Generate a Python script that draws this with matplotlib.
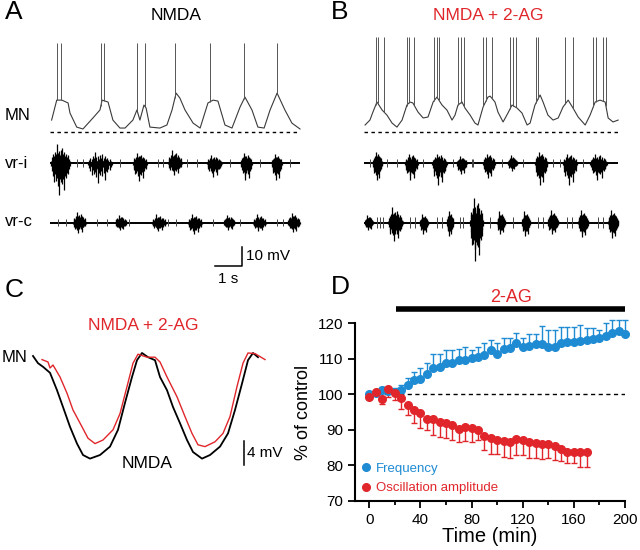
import numpy as np
import matplotlib
matplotlib.use('Agg')
import matplotlib.pyplot as plt
from matplotlib.lines import Line2D

plt.rcParams['font.family'] = ['Liberation Sans', 'DejaVu Sans']

RED = '#e0262b'
BLUE = '#1f8bd3'
TRACE = '#3a3a3a'

# ---------------- panel A : NMDA ----------------
# MN membrane potential, vertices of the slow oscillation (s, mV above dotted line)
mn_a_t = [0.06, 0.25, 0.44, 0.67, 0.74, 0.99, 1.22, 1.59, 1.85, 1.93, 2.15, 2.33, 2.59, 2.78,
          3.07, 3.22, 3.33, 3.48, 3.56, 3.70, 4.07, 4.33, 4.52, 4.67, 4.81, 5.00, 5.30, 5.56,
          5.85, 6.04, 6.22, 6.48, 6.74, 7.04, 7.22, 7.48, 7.70, 7.93, 8.15, 8.41, 8.70, 8.96, 9.26]
mn_a_v = [6.3, 16.8, 16.8, 15.3, 10.0, 2.6, 1.6, 7.4, 11.6, 16.8, 15.8, 6.3, 2.1, 2.1,
          6.3, 11.6, 6.3, 14.2, 12.6, 2.6, 2.1, 3.7, 11.6, 20.5, 17.9, 11.6, 4.7, 2.1,
          15.3, 16.8, 16.3, 3.7, 2.1, 13.2, 18.4, 11.6, 2.6, 2.1, 11.6, 20.5, 11.6, 4.7, 1.6]
spikes_a = [0.27, 0.40, 1.88, 2.00, 3.23, 3.53, 4.63, 5.94, 7.19, 8.41]
spike_top_a = 46.8
# ventral root bursts: (start s, end s, max up mV, max down mV)
vri_a_bursts = [(0.04, 0.74, 10.0, 17.0), (1.41, 2.30, 5.8, 10.5), (3.07, 3.59, 5.3, 9.5),
                (4.37, 4.89, 6.8, 6.3), (5.81, 6.37, 4.2, 7.4), (7.07, 7.48, 5.3, 9.0),
                (8.22, 8.59, 4.7, 9.0)]
vri_a_units = [0.99, 1.23, 2.59, 4.00, 4.19, 5.07, 5.43, 6.67, 7.78, 8.89]
vrc_a_bursts = [(0.85, 1.33, 5.8, 5.5), (2.41, 2.85, 4.0, 4.0), (3.78, 4.30, 4.5, 4.5),
                (5.11, 5.63, 4.5, 6.0), (6.44, 6.85, 4.0, 4.0), (7.52, 8.00, 4.5, 4.5),
                (8.81, 9.26, 5.0, 5.0)]
vrc_a_units = [0.30, 0.60, 1.73, 2.10, 2.93, 4.37, 4.67, 6.05, 7.04, 8.40, 8.64]
end_a = 9.26

# ---------------- panel B : NMDA + 2-AG ----------------
mn_b_t = [0.04, 0.22, 0.33, 0.48, 0.67, 0.85, 1.04, 1.22, 1.41, 1.59, 1.70, 1.81, 2.00, 2.19,
          2.37, 2.56, 2.70, 2.89, 3.07, 3.26, 3.37, 3.48, 3.63, 3.74, 3.93, 4.11, 4.22, 4.41,
          4.59, 4.67, 4.85, 4.96, 5.15, 5.33, 5.48, 5.67, 5.85, 6.04, 6.15, 6.33, 6.52, 6.63,
          6.81, 7.00, 7.19, 7.37, 7.56, 7.74, 7.93, 8.19, 8.37, 8.56, 8.74, 8.93, 9.04, 9.22, 9.41]
mn_b_v = [3.7, 6.3, 10.5, 15.8, 11.6, 8.9, 4.7, 2.6, 6.3, 14.2, 15.8, 15.3, 10.5, 7.4,
          7.9, 15.8, 18.4, 14.2, 11.6, 6.3, 8.9, 14.2, 15.8, 12.6, 8.9, 4.7, 3.7, 13.2,
          18.4, 18.9, 15.8, 10.5, 5.3, 10.0, 14.2, 12.6, 10.0, 3.7, 4.7, 14.2, 19.5, 15.8,
          8.9, 6.3, 7.4, 13.2, 16.8, 12.6, 7.9, 3.7, 8.9, 15.8, 16.8, 15.8, 7.4, 5.3, 6.3]
spikes_b = [0.44, 0.51, 0.75, 1.58, 1.68, 1.86, 2.60, 2.69, 2.78, 3.49, 3.60, 3.70,
            4.42, 4.51, 4.73, 5.41, 5.51, 5.62, 6.37, 6.44, 7.44, 7.74, 8.49, 8.59, 8.85, 8.96]
spike_top_b = 50.0
vri_b_bursts = [(0.33, 0.67, 6.0, 9.0), (1.52, 2.00, 5.0, 9.0), (2.52, 3.07, 5.0, 11.5),
                (3.44, 3.81, 3.5, 6.0), (4.41, 4.85, 5.0, 8.0), (5.33, 5.67, 4.0, 4.0),
                (6.33, 6.78, 6.0, 11.5), (7.37, 7.89, 5.0, 11.5), (8.37, 9.00, 5.0, 9.0)]
vri_b_units = [0.22, 0.84, 1.21, 2.19, 3.30, 3.99, 4.05, 5.10, 5.90, 7.00, 7.26, 8.11]
vrc_b_bursts = [(0.04, 0.33, 4.0, 4.0), (0.89, 1.44, 8.0, 9.5), (2.07, 2.37, 4.5, 6.0),
                (3.07, 3.30, 6.0, 7.0), (3.93, 4.41, 13.0, 20.0), (4.93, 5.22, 6.0, 6.0),
                (5.85, 6.15, 6.0, 7.0), (6.81, 7.19, 6.5, 6.0), (7.93, 8.30, 6.5, 7.5),
                (9.04, 9.41, 6.5, 8.0)]
vrc_b_units = [0.47, 0.59, 0.72, 1.70, 1.89, 2.69, 2.87, 3.56, 3.68, 4.67, 5.53, 6.44,
               6.62, 7.51, 7.70, 8.67, 8.85]
end_b = 9.41

# vertical offsets of the three rows (mV)
ROW_MN, ROW_VRI, ROW_VRC = 0.0, -16.3, -47.7

# ---------------- panel C : superimposed MN cycles ----------------
c_nmda_t = [0.00, 0.05, 0.10, 0.17, 0.24, 0.30, 0.37, 0.44, 0.50, 0.57, 0.67, 0.77, 0.85, 0.92,
            0.99, 1.04, 1.09, 1.15, 1.22, 1.27, 1.34, 1.40, 1.47, 1.54, 1.60, 1.69, 1.77, 1.87,
            1.95, 2.02, 2.09, 2.15, 2.20, 2.25]
c_nmda_v = [-0.5, -1.7, -2.3, -3.3, -6.2, -9.0, -12.3, -15.1, -17.0, -17.6, -17.0, -15.6, -12.8, -8.3,
            -4.0, -1.2, 0.0, -0.7, -1.2, -4.0, -6.2, -9.0, -11.7, -14.5, -16.5, -17.6, -17.0, -15.6,
            -13.4, -9.5, -5.1, -1.2, 0.0, -0.7]
c_2ag_t = [0.09, 0.15, 0.17, 0.20, 0.27, 0.34, 0.40, 0.49, 0.55, 0.62, 0.70, 0.80, 0.87, 0.94,
           1.00, 1.05, 1.14, 1.22, 1.27, 1.34, 1.44, 1.52, 1.59, 1.65, 1.72, 1.82, 1.90, 1.97,
           2.04, 2.10, 2.15, 2.22, 2.27, 2.32]
c_2ag_v = [-1.1, -1.5, -2.5, -2.0, -4.0, -6.7, -9.5, -12.3, -14.2, -15.1, -14.5, -12.8, -10.1, -5.6,
           -1.7, -0.2, -0.7, -0.7, -1.5, -4.0, -7.3, -10.6, -13.4, -15.3, -15.6, -14.8, -13.4, -10.6,
           -5.6, -1.7, 0.0, -0.1, -0.6, -1.1]

# ---------------- panel D : time course ----------------
time_freq = np.arange(0, 201, 5)
freq_mean = [100.0, 100.3, 101.2, 101.0, 100.8, 101.3, 102.7, 104.1, 104.3, 105.8, 107.5,
             107.6, 108.9, 108.9, 109.7, 109.7, 110.2, 110.6, 111.0, 112.4, 111.3, 112.8,
             113.0, 114.4, 113.2, 113.6, 114.1, 114.2, 113.4, 113.2, 114.4, 114.8, 114.6,
             115.0, 115.3, 115.5, 115.8, 116.3, 117.4, 117.7, 117.0]
freq_sem = [0.5, 0.5, 0.8, 1.0, 1.0, 1.2, 1.8, 2.3, 3.0, 2.9, 3.9, 3.8, 3.6, 3.6, 3.0, 3.7,
            2.3, 2.8, 3.4, 2.8, 3.1, 3.0, 2.8, 2.8, 2.8, 3.4, 2.9, 5.1, 4.7, 4.8, 4.6, 4.2,
            4.4, 4.5, 3.3, 3.1, 2.3, 3.7, 3.6, 3.3, 4.0]
time_amp = np.arange(0, 171, 5)
amp_mean = [99.2, 100.8, 98.7, 101.5, 100.3, 99.1, 97.1, 95.5, 94.7, 93.0, 93.0, 92.1, 91.9,
            91.4, 90.3, 90.8, 90.5, 90.0, 88.4, 87.7, 87.1, 87.0, 86.5, 87.5, 87.2, 86.7,
            86.3, 86.0, 86.0, 85.6, 84.6, 83.9, 83.9, 83.8, 83.8]
amp_sem = [0.5, 0.5, 1.4, 2.3, 1.8, 3.3, 2.9, 3.6, 4.2, 3.0, 4.5, 4.1, 4.3, 4.3, 3.6, 3.8,
           3.8, 2.7, 4.1, 4.5, 4.0, 4.5, 4.3, 4.5, 4.3, 4.5, 4.3, 4.2, 4.0, 4.0, 3.4, 3.2,
           3.2, 4.3, 4.3]
drug_on, drug_off = 21, 200

# shape template used to draw each extracellular burst as a bundle of unit spikes
UP_REL = [0.1, 0.3, 0.45, 0.35, 0.6, 0.5, 1.0, 0.55, 0.65, 0.4, 0.7, 0.5, 0.8, 0.45, 0.6,
          0.35, 0.5, 0.3, 0.4, 0.2, 0.1]
DOWN_REL = [0.1, 0.25, 0.4, 0.6, 0.35, 0.55, 0.45, 0.7, 1.0, 0.5, 0.6, 0.4, 0.65, 0.5, 0.85,
            0.4, 0.45, 0.3, 0.35, 0.2, 0.1]


def draw_vr(ax, base, end, bursts, units, unit_h):
    ax.plot([0, end], [base, base], color='k', lw=1.4, solid_capstyle='butt')
    for t0, t1, up, down in bursts:
        xs = np.linspace(t0, t1, len(UP_REL))
        ax.vlines(xs, base - down * np.array(DOWN_REL), base + up * np.array(UP_REL),
                  color='k', lw=0.9)
        ax.fill_between(xs, base - 0.35 * down * np.array(DOWN_REL),
                        base + 0.35 * up * np.array(UP_REL), color='k', lw=0)
    ax.vlines(units, base - unit_h, base + unit_h, color='#444444', lw=0.7)


def draw_mn(ax, t, v, spikes, top, end):
    ax.plot(t, v, color=TRACE, lw=0.8)
    ax.vlines(spikes, np.interp(spikes, t, v), top, color='#555555', lw=0.7)
    ax.plot([0, end], [0, 0], color='k', lw=1.0, ls=(0, (2.5, 2.5)))


fig = plt.figure(figsize=(6.4, 5.5), dpi=100)
W, H = 640.0, 550.0


def px_axes(x0, y0, x1, y1):
    a = fig.add_axes([x0 / W, 1 - y1 / H, (x1 - x0) / W, (y1 - y0) / H])
    a.axis('off')
    return a


# ---- A ----
ax_a = px_axes(45, 30, 305, 285)
ax_a.set_xlim(-0.185, 9.444)
ax_a.set_ylim(-80.5, 53.7)
draw_mn(ax_a, mn_a_t, mn_a_v, spikes_a, spike_top_a, end_a)
draw_vr(ax_a, ROW_VRI, end_a, vri_a_bursts, vri_a_units, 2.0)
draw_vr(ax_a, ROW_VRC, end_a, vrc_a_bursts, vrc_a_units, 2.0)
# scale bar 1 s / 10 mV
ax_a.plot([6.11, 7.11, 7.11], [-70.5, -70.5, -60.5], color='k', lw=1.1)
ax_a.text(7.25, -65.5, '10 mV', fontsize=11, va='center', ha='left')
ax_a.text(6.61, -77.5, '1 s', fontsize=11, va='center', ha='center')

# ---- B ----
ax_b = px_axes(359, 30, 623, 285)
ax_b.set_xlim(-0.185, 9.59)
ax_b.set_ylim(-80.5, 53.7)
draw_mn(ax_b, mn_b_t, mn_b_v, spikes_b, spike_top_b, end_b)
draw_vr(ax_b, ROW_VRI, end_b, vri_b_bursts, vri_b_units, 2.0)
draw_vr(ax_b, ROW_VRC, end_b, vrc_b_bursts, vrc_b_units, 3.0)

# ---- C ----
ax_c = px_axes(30, 330, 300, 475)
ax_c.set_xlim(-0.03, 2.67)
ax_c.set_ylim(-20.33, 3.83)
ax_c.plot(c_nmda_t, c_nmda_v, color='k', lw=1.3)
ax_c.plot(c_2ag_t, c_2ag_v, color=RED, lw=1.0)
ax_c.plot([2.11, 2.11], [-14.7, -18.7], color='k', lw=1.1)
ax_c.text(2.14, -16.7, '4 mV', fontsize=11, va='center', ha='left')

# ---- D ----
ax_d = fig.add_axes([355 / W, 1 - 501 / H, 270 / W, (501 - 323.3) / H])
ax_d.axhline(100, xmin=11.2 / 211.2, xmax=1, color='k', lw=1.0, ls=(0, (3, 2.5)))
ax_d.errorbar(time_freq, freq_mean, yerr=[np.zeros(len(freq_sem)), freq_sem], fmt='o',
              color=BLUE, ms=5.5, elinewidth=1.0, capsize=2.5, capthick=1.0, clip_on=False)
ax_d.errorbar(time_amp, amp_mean, yerr=[amp_sem, np.zeros(len(amp_sem))], fmt='o',
              color=RED, ms=5.5, elinewidth=1.0, capsize=2.5, capthick=1.0, clip_on=False)
ax_d.set_xlim(-11.2, 200)
ax_d.set_ylim(70, 120)
ax_d.set_xticks([0, 40, 80, 120, 160, 200])
ax_d.set_xticks([20, 60, 100, 140, 180], minor=True)
ax_d.set_yticks([70, 80, 90, 100, 110, 120])
ax_d.tick_params(axis='both', which='major', labelsize=11, length=5, width=1.3, direction='out')
ax_d.tick_params(axis='x', which='minor', length=3, width=1.3)
for s in ['top', 'right']:
    ax_d.spines[s].set_visible(False)
for s in ['left', 'bottom']:
    ax_d.spines[s].set_linewidth(1.5)
ax_d.set_xlabel('Time (min)', fontsize=14.5, labelpad=0)
ax_d.set_ylabel('% of control', fontsize=13, labelpad=4)
ax_d.plot([drug_on, drug_off], [124.0, 124.0], color='k', lw=4, clip_on=False,
          solid_capstyle='butt')
ax_d.text((drug_on + drug_off) / 2, 127.3, '2-AG', color=RED, fontsize=13,
          ha='center', va='center')
handles = [Line2D([], [], marker='o', ls='', color=BLUE, ms=5.5),
           Line2D([], [], marker='o', ls='', color=RED, ms=5.5)]
leg = ax_d.legend(handles, ['Frequency', 'Oscillation amplitude'], loc='lower left',
                  frameon=False, fontsize=9.5, handlelength=0.6, handletextpad=0.5,
                  labelspacing=0.55, borderaxespad=0.1, bbox_to_anchor=(0.0, 0.0))
for txt, c in zip(leg.get_texts(), [BLUE, RED]):
    txt.set_color(c)

# ---- text labels ----
fig.text(5 / W, 1 - 12 / H, 'A', fontsize=19, va='center', ha='left')
fig.text(331 / W, 1 - 12 / H, 'B', fontsize=19, va='center', ha='left')
fig.text(5 / W, 1 - 290 / H, 'C', fontsize=19, va='center', ha='left')
fig.text(331 / W, 1 - 287 / H, 'D', fontsize=19, va='center', ha='left')
fig.text(176 / W, 1 - 16 / H, 'NMDA', fontsize=12.5, va='center', ha='center')
fig.text(488 / W, 1 - 16 / H, 'NMDA + 2-AG', fontsize=12.5, va='center', ha='center', color=RED)
fig.text(143 / W, 1 - 325 / H, 'NMDA + 2-AG', fontsize=12.5, va='center', ha='center', color=RED)
fig.text(147 / W, 1 - 463 / H, 'NMDA', fontsize=12.5, va='center', ha='center')
fig.text(5 / W, 1 - 115 / H, 'MN', fontsize=12, va='center', ha='left')
fig.text(5 / W, 1 - 163 / H, 'vr-i', fontsize=12, va='center', ha='left')
fig.text(5 / W, 1 - 222 / H, 'vr-c', fontsize=12, va='center', ha='left')
fig.text(2 / W, 1 - 358 / H, 'MN', fontsize=12, va='center', ha='left')

fig.savefig('out.png', dpi=100)
